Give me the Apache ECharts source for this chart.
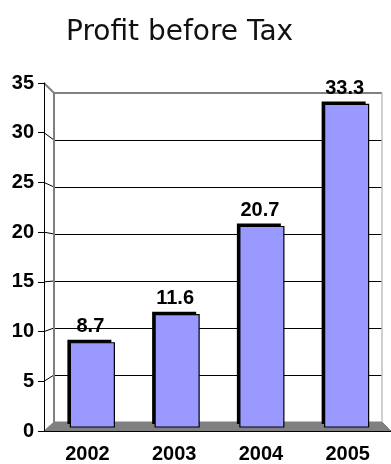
<!DOCTYPE html>
<html><head><meta charset="utf-8">
<script src="https://cdn.jsdelivr.net/npm/echarts/dist/echarts.min.js"></script>
<style>html,body{margin:0;padding:0;background:#fff}#c{width:391px;height:464px}</style>
</head><body><div id="c"></div>
<script>
const categories = ['2002', '2003', '2004', '2005'];
const profit = [8.7, 11.6, 20.7, 33.3];
const yTicks = [0, 5, 10, 15, 20, 25, 30, 35];
const yMin = 0, yMax = 35, yStep = 5;

const chart = echarts.init(document.getElementById('c'), null, {renderer: 'canvas'});
const labelFont = {fontFamily: 'Arial, sans-serif', fontWeight: 'bold', fontSize: 20, color: '#000'};

function renderBar(params, api) {
  const x = api.coord([api.value(0), 0]);
  const top = api.coord([api.value(0), api.value(1)]);
  const w = 44, d = 3;
  const x0 = x[0] - w / 2 + 1;
  const h = x[1] - top[1];
  return {type: 'group', children: [
    {type: 'rect', shape: {x: x0 - d, y: top[1] - d, width: w, height: h}, style: {fill: '#000'}},
    {type: 'rect', shape: {x: x0, y: top[1], width: w, height: h}, style: {fill: '#9999ff', stroke: '#000', lineWidth: 1.2}},
    {type: 'text', style: {text: String(api.value(1)), x: x0 + w / 2 - 2, y: top[1] - 6,
      align: 'center', verticalAlign: 'bottom', font: 'bold 20px Arial, sans-serif', fill: '#000'}}
  ]};
}

chart.setOption({
  animation: false,
  title: {text: 'Profit before Tax', left: 61, top: 14,
    textStyle: {fontFamily: '"DejaVu Sans", sans-serif', fontWeight: 'normal', fontSize: 28, color: '#111'}},
  grid: [
    {left: 44, right: 0, top: 83, bottom: 32},
    {left: 54, right: 9, top: 93, bottom: 42},
    {left: 49, right: 3, top: 88, bottom: 37}
  ],
  xAxis: [
    {gridIndex: 0, type: 'category', data: categories, z: 10,
      axisLine: {lineStyle: {color: '#000', width: 1}},
      axisTick: {length: 5, lineStyle: {color: '#000'}},
      axisLabel: Object.assign({margin: 13}, labelFont), splitLine: {show: false}},
    {gridIndex: 1, type: 'category', data: categories, show: false},
    {gridIndex: 2, type: 'category', data: categories, show: false}
  ],
  yAxis: [
    {gridIndex: 0, type: 'value', min: yMin, max: yMax, interval: yStep, z: 10,
      axisLine: {show: true, lineStyle: {color: '#000'}},
      axisTick: {show: true, length: 6, lineStyle: {color: '#000'}},
      axisLabel: Object.assign({margin: 10}, labelFont), splitLine: {show: false}},
    {gridIndex: 1, type: 'value', min: yMin, max: yMax, interval: yStep,
      axisLine: {show: false}, axisTick: {show: false}, axisLabel: {show: false},
      splitLine: {show: true, lineStyle: {color: '#000', width: 1}}},
    {gridIndex: 2, type: 'value', min: yMin, max: yMax, interval: yStep, show: false}
  ],
  series: [{
    type: 'custom', xAxisIndex: 2, yAxisIndex: 2, z: 5,
    data: profit.map((v, i) => [i, v]),
    renderItem: renderBar
  }]
});

// 3D decorations derived from the axes' own scales
function rectOf(i) { return chart.getModel().getComponent('grid', i).coordinateSystem.getRect(); }
const fr = rectOf(0), bk = rectOf(1);
const yF = v => chart.convertToPixel({yAxisIndex: 0}, v);
const yB = v => chart.convertToPixel({yAxisIndex: 1}, v);
const els = [];
els.push({type: 'polygon', z: 1, shape: {points: [
  [fr.x, yF(yMin)], [fr.x + fr.width, yF(yMin)], [bk.x + bk.width, yB(yMin)], [bk.x, yB(yMin)]]},
  style: {fill: '#808080', stroke: '#808080', lineWidth: 1}});
yTicks.forEach(v => {
  if (v === yMin) return;
  els.push({type: 'line', z: 1, shape: {x1: fr.x, y1: yF(v), x2: bk.x, y2: yB(v)},
    style: {stroke: v === yMax ? '#808080' : '#000', lineWidth: v === yMax ? 2 : 1}});
});
els.push({type: 'line', z: 1, shape: {x1: bk.x, y1: yB(yMax), x2: bk.x + bk.width, y2: yB(yMax)}, style: {stroke: '#808080', lineWidth: 2}});
els.push({type: 'line', z: 1, shape: {x1: bk.x, y1: yB(yMax), x2: bk.x, y2: yB(yMin)}, style: {stroke: '#808080', lineWidth: 2}});
els.push({type: 'line', z: 1, shape: {x1: bk.x + bk.width, y1: yB(yMax), x2: bk.x + bk.width, y2: yB(yMin)}, style: {stroke: '#c0c0c0', lineWidth: 1.5}});
chart.setOption({graphic: {elements: els}});
</script>
</body></html>
